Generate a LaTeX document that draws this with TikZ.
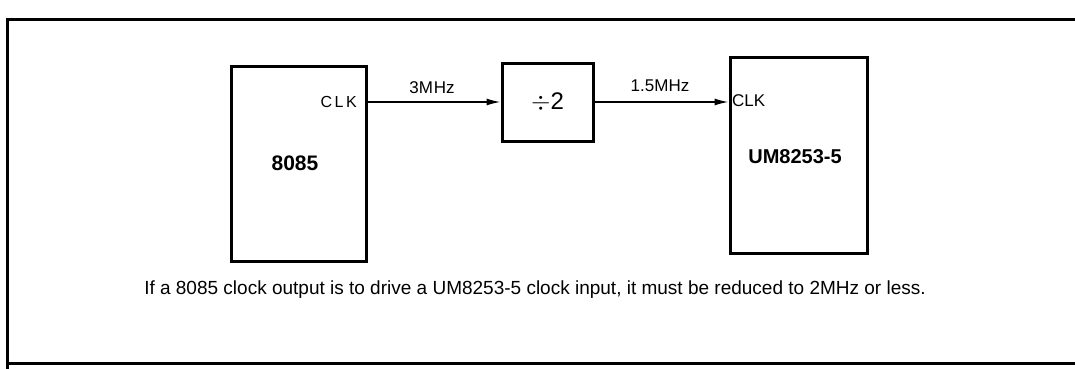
\documentclass[tikz,border=0pt]{standalone}
\usepackage{fontspec}
\setmainfont{Liberation Sans}
\usetikzlibrary{arrows.meta}
\usetikzlibrary{calc}

% blocks and signal lines
\tikzset{
	chip/.style={draw, line width=3pt, inner sep=0pt},
	pinlabel/.style={inner sep=0pt, font=\fontsize{16}{16}\selectfont},
	sig/.style={line width=1.5pt, -{Latex[length=14pt, width=7pt]}},
	freq/.style={inner sep=0pt, font=\fontsize{17}{17}\selectfont},
	frame/.style={line width=3pt},
}

\begin{document}
\begin{tikzpicture}[x=1pt, y=-1pt]
	% page: 1075 x 369
	\useasboundingbox (0,0) rectangle (1075,369);
	
	% outer frame, open at the right
	\draw[frame] (1075,20) -- (7,20) -- (7,369);
	\draw[frame] (7,363) -- (1075,363);
	
	% processor
	\node[chip, minimum width=135pt, minimum height=195pt] (cpu) at (298.5,163.5) {};
	\node[font=\bfseries\fontsize{21}{21}\selectfont] (cpuname) at (295,163) {8085};
	\node[pinlabel, anchor=east] (cpuclk) at (357,102) {C\kern2.5pt L\kern2.5pt K};
	
	% divide by two
	\node[chip, minimum width=91pt, minimum height=78pt] (div) at (547.5,102) {};
	\node[font=\fontsize{24}{24}\selectfont] (divtext) at (div.center) {$\div$2};
	
	% timer
	\node[chip, minimum width=137pt, minimum height=195pt] (um) at (798.5,155.5) {};
	\node[font=\bfseries\fontsize{20}{20}\selectfont] (umname) at (795,157) {UM8253-5};
	\node[pinlabel, anchor=west, font=\fontsize{17}{17}\selectfont] (umclk) at (732,101) {CLK};
	
	% clock lines
	\draw[sig] (cpuclk -| cpu.east) -- (div.west);
	\draw[sig] (div.east) -- (div.east -| um.west);
	\node[freq] (f3) at (432,88) {3M\kern1pt Hz};
	\node[freq] (f15) at (660,86) {1.5MHz};
	
	% note
	\node[font=\fontsize{19}{19}\selectfont] (note) at (535,290)
		{If a 8085 clock output is to drive a UM8253-5 clock input, it must be reduced to 2MHz or less.};
\end{tikzpicture}
\end{document}
